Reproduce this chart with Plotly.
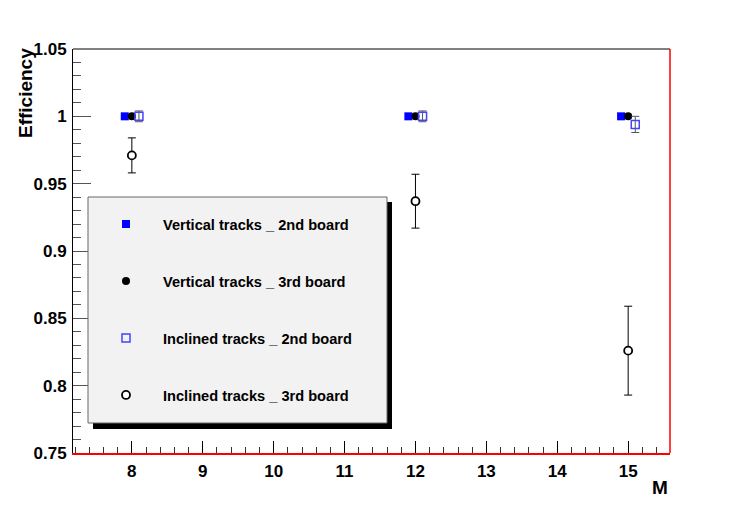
import plotly.graph_objects as go

# Data
m_values = [8, 12, 15]
offset_v2 = -0.1   # markers were drawn slightly displaced in the original
offset_i2 = 0.1

eff_vert_2nd = [1.0, 1.0, 1.0]
eff_vert_3rd = [1.0, 1.0, 1.0]
eff_incl_2nd = [1.0, 1.0, 0.994]
err_incl_2nd = [0.004, 0.004, 0.006]
eff_incl_3rd = [0.971, 0.937, 0.826]
err_incl_3rd = [0.013, 0.020, 0.033]

names = ["Vertical tracks _ 2nd board", "Vertical tracks _ 3rd board",
         "Inclined tracks _ 2nd board", "Inclined tracks _ 3rd board"]

y_ticks = [0.75, 0.8, 0.85, 0.9, 0.95, 1.0, 1.05]
y_ticktext = ["0.75", "0.8", "0.85", "0.9", "0.95", "1", "1.05"]
x_ticks = [8, 9, 10, 11, 12, 13, 14, 15]

# plot area in pixels (for the decorative frame/legend box)
W, H = 747, 505
L, R, T, B = 73, 670, 49, 453


def px(x):
    return (x - L) / (R - L)


def py(y):
    return (B - y) / (B - T)


fig = go.Figure()

fig.add_trace(go.Scatter(
    x=[m + offset_v2 for m in m_values], y=eff_vert_2nd, name=names[0],
    mode="markers", legendgroup="a",
    marker=dict(symbol="square", size=8, color="#0000ff")))

fig.add_trace(go.Scatter(
    x=m_values, y=eff_vert_3rd, name=names[1],
    mode="markers", legendgroup="b",
    marker=dict(symbol="circle", size=8, color="black")))

fig.add_trace(go.Scatter(
    x=[m + offset_i2 for m in m_values], y=eff_incl_2nd, name=names[2],
    mode="markers", legendgroup="c",
    error_y=dict(type="data", array=err_incl_2nd, color="#555555", thickness=1, width=4),
    marker=dict(symbol="square-open", size=8, color="#4444ff", line=dict(width=1.5))))

fig.add_trace(go.Scatter(
    x=m_values, y=eff_incl_3rd, name=names[3],
    mode="markers", legendgroup="d",
    error_y=dict(type="data", array=err_incl_3rd, color="black", thickness=1, width=4),
    marker=dict(symbol="circle", size=8, color="white", line=dict(width=1.8, color="black"))))

fnt = "Liberation Sans"

shapes = [
    # frame: top black, right red
    dict(type="line", xref="paper", yref="paper", x0=0, x1=1, y0=1, y1=1,
         line=dict(color="black", width=1)),
    dict(type="line", xref="paper", yref="paper", x0=1, x1=1, y0=0, y1=1,
         line=dict(color="red", width=1.5)),
    # legend shadow and box
    dict(type="rect", xref="paper", yref="paper", layer="above",
         x0=px(93), x1=px(392), y0=py(429), y1=py(202),
         fillcolor="black", line=dict(width=0)),
    dict(type="rect", xref="paper", yref="paper", layer="above",
         x0=px(88), x1=px(387), y0=py(423), y1=py(197),
         fillcolor="#f2f2f2", line=dict(color="#666666", width=1)),
]

fig.update_layout(
    width=W, height=H,
    margin=dict(l=L, r=W - R, t=T, b=H - B),
    paper_bgcolor="white", plot_bgcolor="white",
    font=dict(family=fnt, size=14, color="black"),
    showlegend=True,
    legend=dict(x=px(89), y=py(208), xanchor="left", yanchor="top",
                bgcolor="rgba(0,0,0,0)", borderwidth=0,
                itemwidth=64, tracegroupgap=35,
                font=dict(family=fnt, size=14.6, color="black", weight="bold")),
    shapes=shapes,
    annotations=[
        dict(text="Efficiency", xref="paper", yref="paper", x=px(25), y=py(93),
             textangle=-90, showarrow=False, xanchor="center", yanchor="middle",
             font=dict(family=fnt, size=19, weight="bold")),
        dict(text="M", xref="paper", yref="paper", x=1, y=py(487),
             showarrow=False, xanchor="right", yanchor="middle",
             font=dict(family=fnt, size=19, weight="bold")),
    ],
)

fig.update_xaxes(
    range=[7.17, 15.59], tickvals=x_ticks, showgrid=False, zeroline=False,
    showline=True, linecolor="red", linewidth=1.5,
    ticks="inside", ticklen=12, tickcolor="black", tickwidth=1,
    ticklabelstandoff=2,
    tickfont=dict(family=fnt, size=17, weight="bold"),
    minor=dict(dtick=0.2, ticks="inside", ticklen=6, tickcolor="#333333", showgrid=False),
)

fig.update_yaxes(
    range=[0.75, 1.05], tickvals=y_ticks, ticktext=y_ticktext,
    showgrid=False, zeroline=False,
    showline=True, linecolor="black", linewidth=1,
    ticks="inside", ticklen=18, tickcolor="#555555", tickwidth=1,
    ticklabelstandoff=2,
    tickfont=dict(family=fnt, size=17, weight="bold"),
    minor=dict(dtick=0.01, ticks="inside", ticklen=8, tickcolor="#555555", showgrid=False),
)

# the page's default body margin would shift the chart by 8px
fig.write_html("out.html", config={"displayModeBar": False},
               post_script="document.body.style.margin='0';")
